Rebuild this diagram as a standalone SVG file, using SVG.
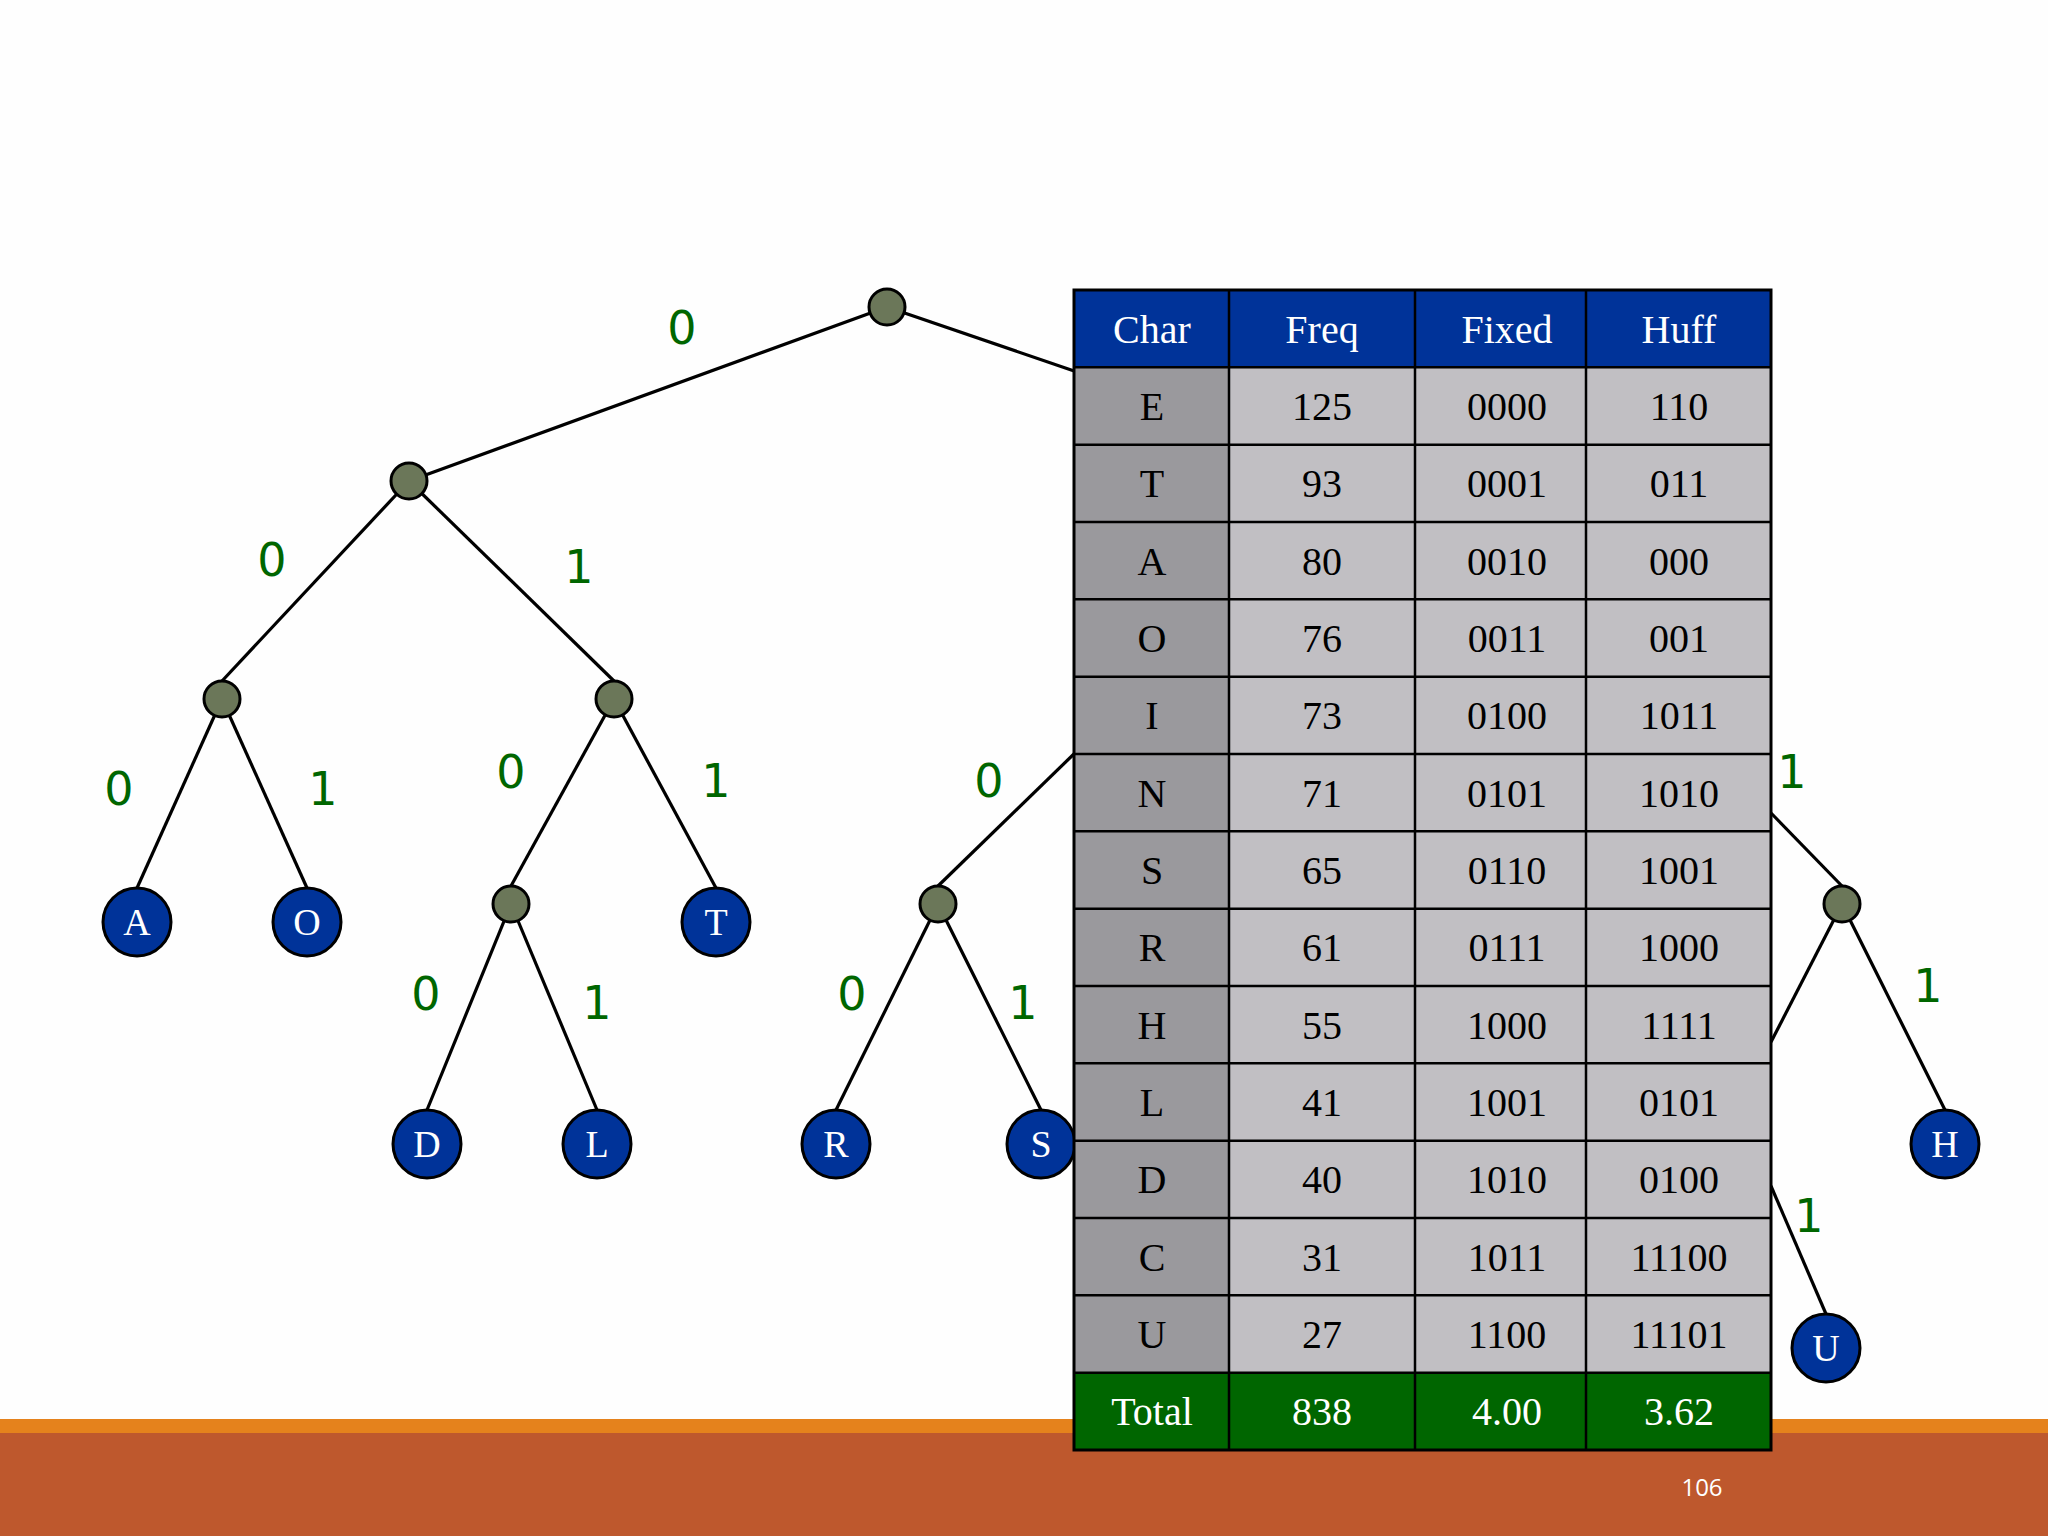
<svg xmlns="http://www.w3.org/2000/svg" width="2048" height="1536" viewBox="0 0 2048 1536">
<style>
.edge{stroke:#000;stroke-width:3.2;fill:none}
.inner{fill:#6B7759;stroke:#000;stroke-width:3}
.leaf{fill:#003399;stroke:#000;stroke-width:3}
.lt{font-family:"Liberation Serif",serif;font-size:38px;fill:#fff;text-anchor:middle}
.bit{font-family:"DejaVu Sans",sans-serif;font-size:46px;fill:#006600;text-anchor:middle}
.ct{font-family:"Liberation Serif",serif;font-size:40px;fill:#000;text-anchor:middle}
.wt{font-family:"Liberation Serif",serif;font-size:40px;fill:#fff;text-anchor:middle}
.grid{stroke:#000;stroke-width:2.5}
</style>
<rect width="2048" height="1536" fill="#FEFEFE"/>
<rect x="0" y="1419" width="2048" height="14" fill="#E5821C"/>
<rect x="0" y="1433" width="2048" height="103" fill="#BE582D"/>
<text x="1702" y="1496" font-family="Open Sans,sans-serif" font-size="24" fill="#fff" text-anchor="middle">106</text>

<g id="connectors">
<line class="edge" x1="887" y1="307" x2="409" y2="481"/>
<line class="edge" x1="887" y1="307" x2="1080" y2="373"/>
<line class="edge" x1="409" y1="481" x2="222" y2="681"/>
<line class="edge" x1="409" y1="481" x2="614" y2="681"/>
<line class="edge" x1="222" y1="699" x2="137" y2="888"/>
<line class="edge" x1="222" y1="699" x2="307" y2="888"/>
<line class="edge" x1="614" y1="699" x2="511" y2="886"/>
<line class="edge" x1="614" y1="699" x2="716" y2="888"/>
<line class="edge" x1="511" y1="904" x2="427" y2="1110"/>
<line class="edge" x1="511" y1="904" x2="597" y2="1110"/>
<line class="edge" x1="938" y1="886" x2="1078" y2="750"/>
<line class="edge" x1="938" y1="904" x2="836" y2="1110"/>
<line class="edge" x1="938" y1="904" x2="1041" y2="1110"/>
<line class="edge" x1="1771" y1="813" x2="1842" y2="886"/>
<line class="edge" x1="1842" y1="904" x2="1771" y2="1042"/>
<line class="edge" x1="1842" y1="904" x2="1945" y2="1110"/>
<line class="edge" x1="1771" y1="1186" x2="1826" y2="1314"/>
</g>

<g id="edge-labels">
<text class="bit" x="682" y="344">0</text>
<text class="bit" x="272" y="576">0</text>
<text class="bit" x="579" y="583">1</text>
<text class="bit" x="119" y="805">0</text>
<text class="bit" x="323" y="805">1</text>
<text class="bit" x="511" y="788">0</text>
<text class="bit" x="716" y="797">1</text>
<text class="bit" x="989" y="797">0</text>
<text class="bit" x="1792" y="788">1</text>
<text class="bit" x="426" y="1010">0</text>
<text class="bit" x="597" y="1019">1</text>
<text class="bit" x="852" y="1010">0</text>
<text class="bit" x="1023" y="1019">1</text>
<text class="bit" x="1928" y="1002">1</text>
<text class="bit" x="1809" y="1232">1</text>
</g>

<g id="n-root"><circle class="inner" cx="887" cy="307" r="18"/></g>
<g id="n-0"><circle class="inner" cx="409" cy="481" r="18"/></g>
<g id="n-00"><circle class="inner" cx="222" cy="699" r="18"/></g>
<g id="n-01"><circle class="inner" cx="614" cy="699" r="18"/></g>
<g id="n-010"><circle class="inner" cx="511" cy="904" r="18"/></g>
<g id="n-100"><circle class="inner" cx="938" cy="904" r="18"/></g>
<g id="n-111"><circle class="inner" cx="1842" cy="904" r="18"/></g>

<g id="leaf-A"><circle class="leaf" cx="137" cy="922" r="34"/><text class="lt" x="137" y="935">A</text></g>
<g id="leaf-O"><circle class="leaf" cx="307" cy="922" r="34"/><text class="lt" x="307" y="935">O</text></g>
<g id="leaf-T"><circle class="leaf" cx="716" cy="922" r="34"/><text class="lt" x="716" y="935">T</text></g>
<g id="leaf-D"><circle class="leaf" cx="427" cy="1144" r="34"/><text class="lt" x="427" y="1157">D</text></g>
<g id="leaf-L"><circle class="leaf" cx="597" cy="1144" r="34"/><text class="lt" x="597" y="1157">L</text></g>
<g id="leaf-R"><circle class="leaf" cx="836" cy="1144" r="34"/><text class="lt" x="836" y="1157">R</text></g>
<g id="leaf-S"><circle class="leaf" cx="1041" cy="1144" r="34"/><text class="lt" x="1041" y="1157">S</text></g>
<g id="leaf-H"><circle class="leaf" cx="1945" cy="1144" r="34"/><text class="lt" x="1945" y="1157">H</text></g>
<g id="leaf-U"><circle class="leaf" cx="1826" cy="1348" r="34"/><text class="lt" x="1826" y="1361">U</text></g>

<g id="table">
<rect x="1074" y="290" width="697" height="77.3" fill="#003399"/>
<rect x="1074" y="367.3" width="155" height="1005.4" fill="#9A999D"/>
<rect x="1229" y="367.3" width="542" height="1005.4" fill="#C1BFC3"/>
<rect x="1074" y="1372.7" width="697" height="77.3" fill="#006600"/>
<g class="grid">
<line x1="1074" y1="367.3" x2="1771" y2="367.3"/>
<line x1="1074" y1="444.7" x2="1771" y2="444.7"/>
<line x1="1074" y1="522" x2="1771" y2="522"/>
<line x1="1074" y1="599.3" x2="1771" y2="599.3"/>
<line x1="1074" y1="676.7" x2="1771" y2="676.7"/>
<line x1="1074" y1="754" x2="1771" y2="754"/>
<line x1="1074" y1="831.3" x2="1771" y2="831.3"/>
<line x1="1074" y1="908.7" x2="1771" y2="908.7"/>
<line x1="1074" y1="986" x2="1771" y2="986"/>
<line x1="1074" y1="1063.3" x2="1771" y2="1063.3"/>
<line x1="1074" y1="1140.7" x2="1771" y2="1140.7"/>
<line x1="1074" y1="1218" x2="1771" y2="1218"/>
<line x1="1074" y1="1295.3" x2="1771" y2="1295.3"/>
<line x1="1074" y1="1372.7" x2="1771" y2="1372.7"/>
<line x1="1229" y1="290" x2="1229" y2="1450"/>
<line x1="1415" y1="290" x2="1415" y2="1450"/>
<line x1="1586" y1="290" x2="1586" y2="1450"/>
</g>
<rect x="1074" y="290" width="697" height="1160" fill="none" stroke="#000" stroke-width="3"/>
<text class="wt" x="1152" y="343">Char</text><text class="wt" x="1322" y="343">Freq</text><text class="wt" x="1507" y="343">Fixed</text><text class="wt" x="1679" y="343">Huff</text>
<text class="ct" x="1152" y="420">E</text><text class="ct" x="1322" y="420">125</text><text class="ct" x="1507" y="420">0000</text><text class="ct" x="1679" y="420">110</text>
<text class="ct" x="1152" y="497">T</text><text class="ct" x="1322" y="497">93</text><text class="ct" x="1507" y="497">0001</text><text class="ct" x="1679" y="497">011</text>
<text class="ct" x="1152" y="575">A</text><text class="ct" x="1322" y="575">80</text><text class="ct" x="1507" y="575">0010</text><text class="ct" x="1679" y="575">000</text>
<text class="ct" x="1152" y="652">O</text><text class="ct" x="1322" y="652">76</text><text class="ct" x="1507" y="652">0011</text><text class="ct" x="1679" y="652">001</text>
<text class="ct" x="1152" y="729">I</text><text class="ct" x="1322" y="729">73</text><text class="ct" x="1507" y="729">0100</text><text class="ct" x="1679" y="729">1011</text>
<text class="ct" x="1152" y="807">N</text><text class="ct" x="1322" y="807">71</text><text class="ct" x="1507" y="807">0101</text><text class="ct" x="1679" y="807">1010</text>
<text class="ct" x="1152" y="884">S</text><text class="ct" x="1322" y="884">65</text><text class="ct" x="1507" y="884">0110</text><text class="ct" x="1679" y="884">1001</text>
<text class="ct" x="1152" y="961">R</text><text class="ct" x="1322" y="961">61</text><text class="ct" x="1507" y="961">0111</text><text class="ct" x="1679" y="961">1000</text>
<text class="ct" x="1152" y="1039">H</text><text class="ct" x="1322" y="1039">55</text><text class="ct" x="1507" y="1039">1000</text><text class="ct" x="1679" y="1039">1111</text>
<text class="ct" x="1152" y="1116">L</text><text class="ct" x="1322" y="1116">41</text><text class="ct" x="1507" y="1116">1001</text><text class="ct" x="1679" y="1116">0101</text>
<text class="ct" x="1152" y="1193">D</text><text class="ct" x="1322" y="1193">40</text><text class="ct" x="1507" y="1193">1010</text><text class="ct" x="1679" y="1193">0100</text>
<text class="ct" x="1152" y="1271">C</text><text class="ct" x="1322" y="1271">31</text><text class="ct" x="1507" y="1271">1011</text><text class="ct" x="1679" y="1271">11100</text>
<text class="ct" x="1152" y="1348">U</text><text class="ct" x="1322" y="1348">27</text><text class="ct" x="1507" y="1348">1100</text><text class="ct" x="1679" y="1348">11101</text>
<text class="wt" x="1152" y="1425">Total</text><text class="wt" x="1322" y="1425">838</text><text class="wt" x="1507" y="1425">4.00</text><text class="wt" x="1679" y="1425">3.62</text>
</g>
</svg>
